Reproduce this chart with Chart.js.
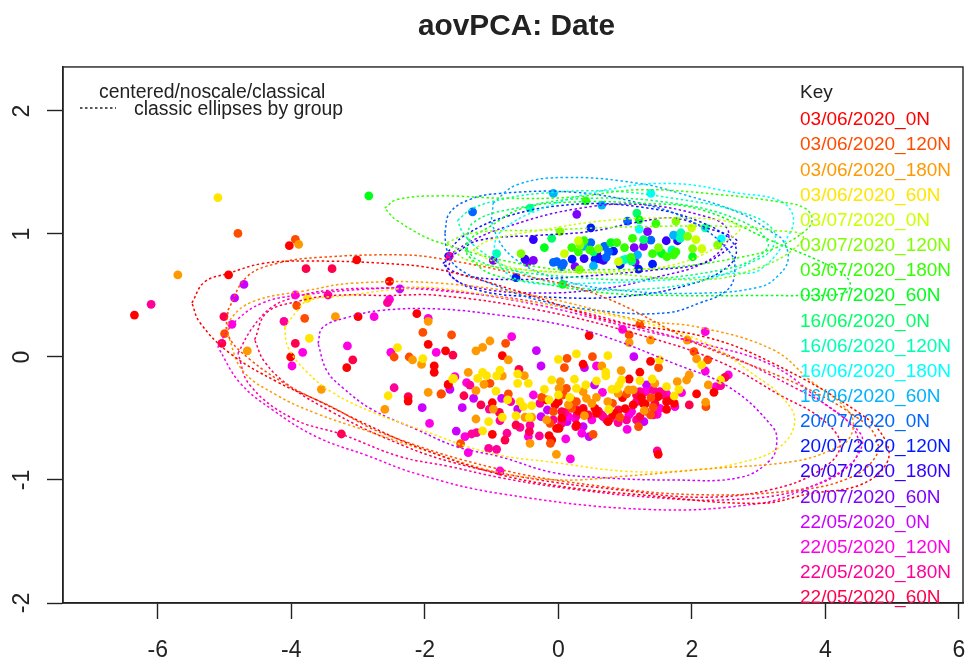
<!DOCTYPE html>
<html><head><meta charset="utf-8">
<style>html,body{margin:0;padding:0;background:#fff}canvas{display:block;filter:blur(0.4px)}</style>
<script src="https://cdn.jsdelivr.net/npm/chart.js@4/dist/chart.umd.min.js"></script>
</head><body><canvas id="c" width="965" height="659"></canvas>
<script>
const titleText = 'aovPCA: Date';
const noteLines = ['centered/noscale/classical', 'classic ellipses by group'];
const xTicks = [-6,-4,-2,0,2,4,6];
const yTicks = [-2,-1,0,1,2];
const groupLabels = ['03/06/2020_0N','03/06/2020_120N','03/06/2020_180N','03/06/2020_60N','03/07/2020_0N','03/07/2020_120N','03/07/2020_180N','03/07/2020_60N','16/06/2020_0N','16/06/2020_120N','16/06/2020_180N','16/06/2020_60N','20/07/2020_0N','20/07/2020_120N','20/07/2020_180N','20/07/2020_60N','22/05/2020_0N','22/05/2020_120N','22/05/2020_180N','22/05/2020_60N'];
const groupColors = ['#FF0000','#FF4D00','#FF9900','#FFE500','#CCFF00','#80FF00','#33FF00','#00FF19','#00FF66','#00FFB2','#00FFFF','#00B3FF','#0066FF','#001AFF','#3300FF','#7F00FF','#CC00FF','#FF00E6','#FF0099','#FF004D'];
// stacking of the point groups, top-most first
const pointStack = [3,2,1,0,19,18,17,16,4,5,6,7,8,9,10,11,12,13,14,15];

const pts00 = [[-4.03,.905],[-4.94,.667],[-3.02,.789],[-2.53,.615],[-6.35,.341],[-3,.328],[-2.12,.352],[-4.01,0],[-3.17,-.087],[-1.95,.103],[-1.86,-.073],[-1.86,-.125],[-2.25,-.358],[-1.65,-.222],[-.99,-.372],[-.99,-.629],[-1.69,.05],[-.84,.011],[.46,.174],[1.38,-.035],[1.22,-.124],[.37,-.059],[-1.65,-.227],[-.14,-.639],[-.1,-.675],[.05,-.498],[.01,-.58],[.37,-.431],[.57,-.458],[.745,-.526],[1.12,-.39],[1.245,-.33],[1.495,-.322],[1.62,-.425],[1.62,-.363],[1.735,-.377],[2.07,-.3],[2.33,-.287],[1.495,-.791],[1.06,-.179],[.96,-.33],[0,-.363],[.3,-.44],[.85,-.46],[1,-.42],[1.3,-.38],[-.05,-.39],[.547,-.417],[.822,-.471],[1.27,-.377],[.272,-.553],[-.027,-.58],[-.177,-.349]];
const pts01 = [[-4.8,1.005],[-3.94,.957],[-3.92,.417],[-3.8,.314],[-2.03,.2],[-5,.19],[-2.46,0],[-2.235,0],[-1.76,-.301],[-1.025,-.214],[-1.465,-.705],[-1.6,.179],[-.79,.111],[.13,-.011],[.09,-.087],[.51,.003],[1.22,.266],[1.06,.179],[2.03,.044],[2.235,-.024],[1.5,-.087],[-1.75,-.3],[-.75,-.3],[-.12,-.702],[.52,-.629],[-.125,-.539],[-.075,-.444],[.2,-.417],[1.2,-.566],[1.38,-.471],[1.42,-.409],[1.385,-.33],[1.02,-.3],[.81,-.377],[.12,-.255],[-.25,-.328],[.27,-.363],[.92,-.49],[2.21,-.404],[.198,-.349],[.073,-.309]];
const pts02 = [[-3.89,.916],[-5.7,.667],[-3.34,.328],[-1.95,.29],[-4.66,.049],[-2.185,-.024],[-2.05,-.06],[-3.55,-.263],[-2.6,-.426],[-1.95,-.287],[-1.35,-.125],[-1.235,-.274],[-1.115,-.222],[-.975,-.423],[-1.235,-.504],[-1.235,.05],[-1.135,.078],[-1.025,.13],[-.75,-.024],[.94,-.111],[.65,-.073],[-.51,-.152],[-.84,-.154],[-.4,-.49],[-.5,-.49],[-.425,-.702],[-.03,-.791],[.39,-.477],[-.175,-.512],[.03,-.2],[.01,-.255],[.37,-.282],[.42,-.336],[.57,-.328],[.5,-.377],[.74,-.363],[.15,-.39],[1.06,.117],[1.38,.138],[1.93,.138],[2.07,-.016],[2.205,-.368],[2.245,-.227],[1.78,-.2],[1.92,-.187],[1.96,-.146],[1.445,-.214],[1.285,-.436],[1.05,-.268],[1.12,-.268],[.895,-.295]];
const pts03 = [[-5.1,1.295],[-3.76,.477],[-3.73,.152],[-2.41,.076],[-2.03,-.014],[-2.55,-.315],[-1.57,-.174],[-1.21,-.174],[-1.135,-.125],[-1.075,-.152],[-.935,-.277],[-1.045,-.526],[-1.135,-.6],[-1.585,-.179],[-.875,-.106],[-.925,-.154],[-.76,-.349],[-.84,-.49],[-.575,-.363],[-.4,-.395],[-.525,-.404],[-.635,-.477],[-.435,-.49],[-.61,-.138],[-.45,-.214],[-.61,-.214],[0,-.019],[.27,.025],[.74,.011],[1.515,-.024],[2.145,-.065],[.71,-.124],[.71,-.154],[.945,-.187],[.91,-.227],[.8,-.263],[.87,-.26],[.57,-.195],[.41,-.227],[.24,-.181],[-.1,-.187],[0,-.309],[-.21,-.263],[.17,-.328],[-.14,-.349],[.27,-.255],[.755,-.425],[1.22,-.192],[1.405,-.179],[1.62,-.241],[1.805,-.263],[1.735,-.317],[2.43,-.187]];
const pts04 = [[1.995,1.05],[.3,.945],[2.06,.955],[2.15,.88],[.09,.84],[.9,.775]];
const pts05 = [[1.76,1.105],[.025,1.02],[1.935,.98],[2.385,.91],[2.01,.88],[-.56,.84],[1.5,.89],[.315,.71],[.6,.88],[.325,.91]];
const pts06 = [[.41,1.27],[1.46,1.085],[1.11,.965],[.385,.945],[1.76,.855],[1.625,.815],[1.41,.84],[.99,.89],[.2,.89],[.3,.855],[.875,.93],[1.085,.81],[.47,.87],[1.725,.83]];
const pts07 = [[-2.84,1.31],[1.21,1.115],[2.01,.815],[.785,.93],[-.21,.89],[.065,.59],[1.55,.84]];
const pts08 = [[1.175,1.17],[-.1,.965],[1.275,.955],[1.535,.85],[.525,.855],[1.1,.78]];
const pts09 = [[-.425,1.21],[2.2,1.05],[1.835,1.01],[-.925,.84],[1.7,.87],[1.825,.965],[.975,.79]];
const pts10 = [[1.385,1.33],[1.21,1.04],[2.44,.96],[1.015,.795]];
const pts11 = [[-.075,1.33],[.65,1.235],[1.785,.985],[.375,.9],[.525,.74],[1.185,.83],[1.725,.99]];
const pts12 = [[-1.285,1.18],[1.035,1.105],[.485,.93],[1.385,.95],[.69,.9],[-.025,.775],[.05,.735],[-.075,.77],[.715,.81],[.075,.76],[.75,.855]];
const pts13 = [[.485,1.05],[.825,.86],[.205,.795],[.55,.795],[.925,.75],[1.2,.715],[1.41,.755],[-.635,.645]];
const pts14 = [[-.375,.955],[1.615,.945],[1.785,.945],[-.5,.795],[.385,.8],[.575,.84],[.675,.785],[.625,.795]];
const pts15 = [[.275,1.16],[1.335,1.02],[1.275,.9],[1.135,.89],[-.975,.785],[-.375,.785],[-.465,.77],[.25,.735],[1.15,.77]];
const pts16 = [[-4.71,.59],[-4.85,.48],[-2.375,.553],[-1.625,-.263],[-2.04,-.412],[-1.53,-.602],[-1.44,-.412],[-1.27,-.336],[-.33,.052],[-.26,-.073],[1.13,.003],[.39,-.087],[-.85,-.336],[-.61,-.423],[-.26,-.485],[-.165,-.431],[.13,-.526],[.37,-.566],[.46,-.647],[1.28,-.526],[1.32,-.227],[.54,-.227]];
const pts17 = [[-3.94,.504],[-2.53,.469],[-4.89,.266],[-2.76,.328],[-1.95,.314],[-3.83,.038],[-3.99,-.073],[-3.16,.09],[-2.51,.038],[-1.83,.038],[-1.93,-.54],[-1.375,-.209],[-1.4,-.648],[-1.35,-.778],[-.875,-.927],[-.7,.165],[.96,.225],[2.2,.206],[2.2,-.114],[-1.55,-.16],[.57,-.073],[-.45,-.647],[.11,-.666],[.18,-.829],[.35,-.62],[.25,-.498],[.5,-.512],[1.03,-.588],[1.055,-.471],[1.48,-.466],[1.745,-.404],[1.845,-.29],[2.36,-.241],[2.545,-.146],[1.31,-.282],[1.62,-.3],[.66,-.287],[-.375,-.309],[.15,-.485],[1.096,-.444],[1.52,-.417]];
const pts18 = [[-6.1,.428],[-3.45,.504],[-2.56,.442],[-4.11,.29],[-2.46,-.25],[-1.325,-.228],[-1.035,-.423],[-1.3,-.626],[-1.225,-.615],[-1.045,-.743],[-.925,-.751],[-.715,-.363],[-.875,-.517],[-.575,-.572],[-.425,-.553],[-.285,-.642],[-.77,-.62],[.67,-.485],[.895,-.534],[1.17,-.512],[.78,-.5],[1.48,-.764],[2.43,-.233],[1.42,-.268],[1.52,-.282],[.28,-.47],[.1,-.45],[-1.635,.82],[-.277,-.377],[.27,-.43],[.722,-.512],[1.17,-.363],[1.22,-.282],[1.57,-.309],[1.42,-.471],[1.02,-.512],[-.077,-.512],[.048,-.539],[.647,-.471]];
const pts19 = [[-3.78,.718],[-3.39,.718],[-5.01,.328],[-5.04,.11],[-3.94,.11],[-3.08,-.024],[-1.58,.016],[-1.415,-.315],[-1.16,-.39],[-2.25,-.323],[-3.25,-.626],[-.59,-.1],[-.885,-.45],[-.8,-.675],[-.635,-.553],[-.435,-.607],[.26,-.566],[1.96,-.39],[2.495,-.165],[1.17,-.309],[.6,-.44],[.9,-.43],[1.3,-.44],[.05,-.444],[.37,-.417],[.447,-.471],[1.446,-.377],[1.22,-.485],[1.67,-.349]];

// ellipse outlines, in data units
const ell00 = [[-5.49,.44],[-5.3,.61],[-4.94,.68],[-4.43,.76],[-3.77,.78],[-2.57,.76],[-1.78,.71],[-.58,.53],[.73,.3],[2.22,.16],[3.21,-.05],[4.52,-.46],[4.89,-.67],[4.92,-.86],[4.52,-1.04],[3.77,-1.11],[3.02,-1.19],[1.22,-1.12],[.02,-1.05],[-.98,-.94],[-2.12,-.73],[-2.87,-.55],[-3.62,-.35],[-4.22,-.2],[-4.92,.03],[-5.37,.28]];
const ell01 = [[-4.95,.38],[-4.67,.65],[-4.22,.76],[-3.57,.81],[-2.33,.83],[-1.78,.8],[-.58,.67],[.62,.5],[2.12,.1],[3.62,-.23],[4.52,-.51],[4.77,-.67],[4.74,-.82],[4.37,-.98],[3.62,-1.08],[2.12,-1.12],[.62,-1.05],[-.98,-.9],[-2.63,-.62],[-3.38,-.41],[-4.02,-.24],[-4.62,-.02],[-4.95,.18]];
const ell02 = [[-4.95,.18],[-4.92,.3],[-4.58,.45],[-3.77,.54],[-3.08,.6],[-1.78,.6],[-.28,.49],[1.22,.3],[2.12,.24],[3.21,.06],[3.77,-.19],[4.37,-.46],[4.37,-.65],[4.07,-.76],[3.51,-.85],[2.22,-.91],[.97,-.97],[.02,-1],[-.88,-.94],[-1.88,-.78],[-2.87,-.6],[-3.62,-.46],[-4.22,-.31],[-4.73,-.11]];
const ell03 = [[-4.1,.24],[-3.92,.37],[-3.75,.46],[-3.17,.5],[-2.27,.56],[-1.78,.56],[-.58,.46],[1.12,.3],[2.22,.11],[2.97,-.16],[3.32,-.31],[3.54,-.51],[3.32,-.73],[2.72,-.86],[1.97,-.92],[1.03,-.93],[-.02,-.86],[-1.03,-.78],[-2.12,-.58],[-2.78,-.45],[-3.38,-.29],[-3.77,-.12],[-4.05,.08]];
const ell04 = [[-1.28,.87],[-1.03,.95],[-.28,1.03],[.73,1.11],[1.72,1.13],[2.46,1.11],[2.72,1.05],[2.61,.98],[1.97,.79],[1.22,.71],[.22,.69],[-.53,.71],[-1.03,.79]];
const ell05 = [[-1.67,.93],[-1.28,1.01],[-.28,1.03],[1.22,1.06],[2.72,1.06],[3.21,1.03],[3.66,.99],[3.51,.87],[3.02,.73],[2.22,.63],[.73,.68],[-.53,.71],[-1.37,.79]];
const ell06 = [[-2.6,1.21],[-2.42,1.28],[-1.78,1.31],[-.77,1.29],[.22,1.3],[1.22,1.36],[2.42,1.32],[3.32,1.26],[3.69,1.21],[3.8,1.11],[3.66,1.01],[3.27,.89],[2.72,.81],[1.72,.73],[.73,.71],[-.28,.73],[-1.78,.93],[-2.42,1.11]];
const ell07 = [[-1.37,.83],[-1.37,.93],[-1.03,1.06],[-.53,1.21],[.22,1.26],[1.22,1.25],[2.12,1.2],[3.17,.95],[4.17,.71],[4.37,.6],[4.29,.52],[3.62,.5],[3.21,.5],[1.72,.5],[.73,.52],[-.28,.6],[-1.03,.68]];
const ell08 = [[-1.37,.87],[-1.28,1.09],[-.53,1.22],[.47,1.29],[1.72,1.25],[2.72,1.11],[3.14,.93],[2.97,.81],[2.46,.71],[1.22,.63],[.22,.65],[-.77,.71],[-1.22,.79]];
const ell09 = [[-1.51,1.11],[-1.28,1.21],[-.77,1.29],[-.28,1.33],[.73,1.35],[1.72,1.29],[2.72,1.18],[3.21,1.04],[3.21,.89],[2.97,.79],[2.22,.63],[1.22,.55],[.22,.57],[-.68,.71],[-1.18,.87],[-1.43,1.01]];
const ell10 = [[-.98,.85],[-.88,1.01],[-.28,1.2],[.73,1.36],[1.72,1.41],[2.72,1.33],[3.27,1.28],[3.5,1.17],[3.47,1.01],[3.02,.71],[2.61,.68],[1.72,.63],[.47,.6],[-.38,.6],[-.77,.68]];
const ell11 = [[-.98,1.25],[-.62,1.4],[.13,1.46],[1.22,1.41],[1.82,1.33],[2.72,1.17],[3.21,1.01],[3.36,.95],[3.44,.79],[3.27,.65],[3.02,.57],[2.22,.52],[.97,.54],[.02,.63],[-.68,.81],[-.98,1.06]];
const ell12 = [[-1.7,1.01],[-1.63,1.17],[-1.33,1.28],[-.88,1.33],[.22,1.34],[1.22,1.25],[1.97,1.11],[2.57,.85],[2.64,.68],[2.52,.54],[2.12,.44],[1.63,.36],[.73,.37],[-.28,.46],[-1.03,.6],[-1.52,.73],[-1.67,.87]];
const ell13 = [[-1.7,.83],[-1.4,.99],[-.73,1.15],[.22,1.24],[1.22,1.22],[2.12,1.1],[2.64,.91],[2.57,.75],[1.97,.59],[.92,.49],[-.28,.49],[-1.18,.54],[-1.63,.67]];
const ell14 = [[-1.73,.76],[-1.52,.85],[-1.18,.95],[-.28,.99],[.47,1.02],[1.22,1.1],[1.72,1.13],[2.22,1.05],[2.67,.95],[2.52,.87],[2.16,.76],[1.48,.71],[.22,.65],[-.62,.63],[-1.28,.65],[-1.63,.71]];
const ell15 = [[-1.58,.85],[-1.28,.95],[-.77,1.06],[.22,1.2],[1.22,1.24],[2.22,1.14],[2.52,1.05],[2.52,.93],[2.16,.76],[1.48,.65],[.73,.56],[-.28,.52],[-1.28,.57],[-1.63,.68]];
const ell16 = [[-3.6,.11],[-3.53,.24],[-3.17,.32],[-2.63,.38],[-1.78,.39],[-.88,.34],[-.02,.27],[.73,.16],[1.72,-.05],[2.57,-.25],[3.21,-.57],[3.27,-.7],[3.17,-.84],[2.72,-.98],[1.72,-1],[.62,-.98],[-.08,-.94],[-.88,-.81],[-1.52,-.73],[-2.12,-.59],[-2.78,-.43],[-3.23,-.25],[-3.47,-.11]];
const ell17 = [[-5.1,.08],[-5.02,.16],[-4.82,.3],[-4.43,.44],[-3.92,.5],[-2.57,.56],[-1.78,.55],[-.28,.42],[1.22,.22],[2.22,.1],[3.21,-.07],[3.96,-.37],[4.52,-.62],[4.52,-.76],[4.26,-.92],[3.66,-1.08],[3.02,-1.19],[1.37,-1.24],[-.88,-1.11],[-2.12,-.95],[-2.87,-.8],[-3.62,-.65],[-4.28,-.43],[-4.77,-.21]];
const ell18 = [[-4.8,.03],[-4.58,.24],[-4.28,.41],[-3.92,.49],[-3.47,.54],[-2.57,.56],[-1.78,.54],[-.28,.44],[1.22,.24],[2.42,.04],[3.47,-.23],[4.22,-.47],[4.49,-.67],[4.37,-.88],[3.62,-1.08],[2.57,-1.16],[1.37,-1.14],[.02,-1.06],[-.88,-.98],[-1.63,-.89],[-2.37,-.81],[-3.24,-.63],[-3.98,-.5],[-4.62,-.23]];
const ell19 = [[-4.55,.14],[-4.37,.36],[-3.92,.45],[-3.38,.5],[-2.57,.5],[-1.78,.5],[-.28,.38],[1.22,.18],[2.42,-.04],[3.32,-.31],[3.96,-.51],[4.22,-.72],[3.92,-.92],[3.17,-1.08],[2.12,-1.14],[.92,-1.08],[-.28,-1],[-1.63,-.85],[-2.63,-.65],[-3.38,-.45],[-4.02,-.24],[-4.4,-.04]];

const pointGroups = [pts00,pts01,pts02,pts03,pts04,pts05,pts06,pts07,pts08,pts09,pts10,pts11,pts12,pts13,pts14,pts15,pts16,pts17,pts18,pts19];
const ellipseGroups = [ell00,ell01,ell02,ell03,ell04,ell05,ell06,ell07,ell08,ell09,ell10,ell11,ell12,ell13,ell14,ell15,ell16,ell17,ell18,ell19];

const asXY = a => a.map(p => ({x:p[0], y:p[1]}));
const datasets = [];
ellipseGroups.forEach((e,i) => datasets.push({
  type:'scatter', label:groupLabels[i]+' ellipse', data:asXY(e.concat([e[0]])), showLine:true, tension:0.4,
  borderColor:groupColors[i], borderWidth:1.5, borderDash:[2.5,2.5], pointRadius:0, fill:false, order:0
}));
pointGroups.forEach((p,i) => datasets.push({
  type:'scatter', label:groupLabels[i], data:asXY(p), showLine:false,
  backgroundColor:groupColors[i], borderWidth:0, pointRadius:4.4, pointHoverRadius:4.4, order:1+pointStack.indexOf(i)
}));

const overlay = {
  id:'overlay',
  afterLayout(chart){ if(chart.titleBlock){ chart.titleBlock.right += 7; } },
  afterDraw(chart){
    const c = chart.ctx, a = chart.chartArea;
    c.save();
    c.strokeStyle = '#222'; c.lineWidth = 1.4;
    c.strokeRect(a.left, a.top, a.right-a.left, a.bottom-a.top);
    c.font = '19.4px "Liberation Sans"'; c.textBaseline = 'middle'; c.textAlign = 'left';
    c.fillStyle = '#222';
    c.fillText(noteLines[0], 99, 93);
    c.fillText(noteLines[1], 134, 110);
    c.setLineDash([2.5,2.5]); c.lineWidth = 1.4; c.beginPath(); c.moveTo(80,108); c.lineTo(116,108); c.stroke(); c.setLineDash([]);
    c.font = '19px "Liberation Sans"';
    c.fillText('Key', 800, 93);
    groupLabels.forEach((t,i) => { c.fillStyle = groupColors[i]; c.fillText(t, 800, 120 + i*25.16); });
    c.restore();
  }
};

new Chart(document.getElementById('c'), {
  type:'scatter',
  data:{datasets},
  plugins:[overlay],
  options:{
    responsive:false, animation:false, events:[],
    layout:{autoPadding:false, padding:{left:0,right:2,top:0,bottom:0}},
    plugins:{
      legend:{display:false}, tooltip:{enabled:false},
      title:{display:true, text:titleText, fullSize:false, color:'#222',
        font:{family:'"Liberation Sans"', size:29.8, weight:'bold', lineHeight:1.2}, padding:{top:9,bottom:22.2}}
    },
    scales:{
      x:{type:'linear', min:-7.42, max:6.06,
        afterFit(s){ s.height = 56; s.paddingLeft = 0; s.paddingRight = 0; },
        afterBuildTicks(s){ s.ticks = xTicks.map(v => ({value:v})); },
        grid:{drawOnChartArea:false, tickLength:16, tickColor:'#222', tickWidth:1.4},
        border:{color:'#222', width:1.4},
        ticks:{color:'#222', padding:18, autoSkip:false, maxRotation:0, font:{family:'"Liberation Sans"', size:23}}
      },
      y:{type:'linear', min:-2, max:2.358,
        afterFit(s){ s.width = 63; },
        afterBuildTicks(s){ s.ticks = yTicks.map(v => ({value:v})); },
        grid:{drawOnChartArea:false, tickLength:16, tickColor:'#222', tickWidth:1.4},
        border:{color:'#222', width:1.4},
        ticks:{color:'#222', padding:14, autoSkip:false, minRotation:90, maxRotation:90, crossAlign:'center', font:{family:'"Liberation Sans"', size:23}}
      }
    }
  }
});
</script></body></html>
